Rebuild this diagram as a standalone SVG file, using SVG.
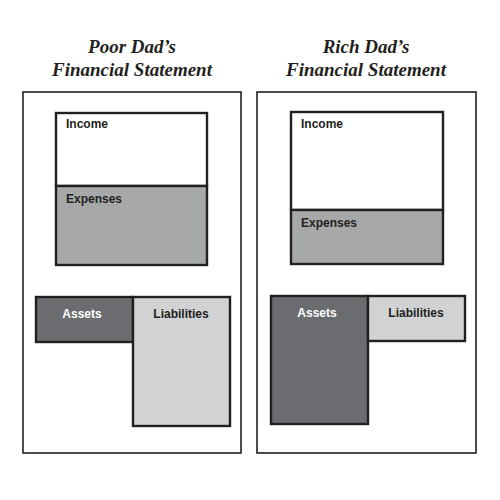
<svg xmlns="http://www.w3.org/2000/svg" width="500" height="500" viewBox="0 0 500 500">
  <style>
    .title { font-family: "Liberation Serif", "Times New Roman", serif; font-weight: bold; font-style: italic; font-size: 19px; fill: #231f20; text-anchor: middle; }
    .panel { fill: #ffffff; stroke: #231f20; stroke-width: 1.6; }
    .box { stroke: #231f20; stroke-width: 2.4; }
    .income { fill: #ffffff; }
    .expenses { fill: #a7a8aa; }
    .assets { fill: #6b6c6f; }
    .liabilities { fill: #d1d2d3; }
    .lbl { font-family: "Liberation Sans", Arial, sans-serif; font-weight: bold; font-size: 12px; fill: #231f20; }
    .lbl-light { fill: #ffffff; }
    .mid { text-anchor: middle; }
  </style>
  <rect width="500" height="500" fill="#ffffff"/>

  <!-- Poor Dad's statement -->
  <g id="poor-title">
    <text class="title" x="132" y="53">Poor Dad’s</text>
    <text class="title" x="132" y="76">Financial Statement</text>
  </g>
  <g id="poor-panel">
    <rect class="panel" x="23" y="92" width="218" height="361"/>
  </g>
  <g id="poor-income">
    <rect class="box income" x="56" y="113" width="151" height="73"/>
    <text class="lbl" x="66" y="128">Income</text>
  </g>
  <g id="poor-expenses">
    <rect class="box expenses" x="56" y="186" width="151" height="79"/>
    <text class="lbl" x="66" y="203">Expenses</text>
  </g>
  <g id="poor-assets">
    <rect class="box assets" x="36" y="297" width="97" height="45"/>
    <text class="lbl lbl-light mid" x="82" y="318">Assets</text>
  </g>
  <g id="poor-liabilities">
    <rect class="box liabilities" x="133" y="297" width="97" height="129"/>
    <text class="lbl mid" x="181" y="318">Liabilities</text>
  </g>

  <!-- Rich Dad's statement -->
  <g id="rich-title">
    <text class="title" x="366" y="53">Rich Dad’s</text>
    <text class="title" x="366" y="76">Financial Statement</text>
  </g>
  <g id="rich-panel">
    <rect class="panel" x="257" y="92" width="219" height="361"/>
  </g>
  <g id="rich-income">
    <rect class="box income" x="291" y="112" width="152" height="98"/>
    <text class="lbl" x="301" y="128">Income</text>
  </g>
  <g id="rich-expenses">
    <rect class="box expenses" x="291" y="210" width="152" height="54"/>
    <text class="lbl" x="301" y="227">Expenses</text>
  </g>
  <g id="rich-assets">
    <rect class="box assets" x="271" y="296" width="97" height="128"/>
    <text class="lbl lbl-light mid" x="317" y="317">Assets</text>
  </g>
  <g id="rich-liabilities">
    <rect class="box liabilities" x="368" y="296" width="97" height="45"/>
    <text class="lbl mid" x="416" y="317">Liabilities</text>
  </g>

  <g id="connectors"/>
</svg>
